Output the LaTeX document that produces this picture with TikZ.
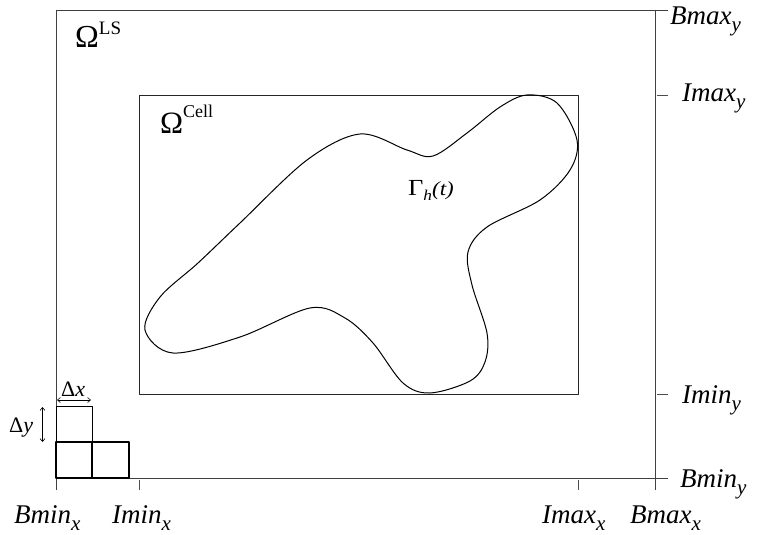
\documentclass[tikz,border=0pt]{standalone}
\usepackage{fontspec}
\setmainfont{Liberation Serif}
\usetikzlibrary{arrows.meta}
\newcommand\axlab[2]{{\fontsize{27}{27}\selectfont\textit{#1}\raisebox{-7pt}{\fontsize{21}{21}\selectfont\textit{#2}}}}
\begin{document}
\begin{tikzpicture}[x=1pt,y=-1pt, line join=round,
  frame/.style={draw=black!75, line width=0.9pt},
  cellbox/.style={draw=black, line width=1.1pt},
  tickline/.style={draw=black!70, line width=0.8pt},
  lab/.style={inner sep=0pt, anchor=base west},
  dimarrow/.style={{Straight Barb[length=3pt,width=5pt]}-{Straight Barb[length=3pt,width=5pt]}, line width=0.6pt},
  blob/.style={draw=black, line width=1pt}]
\useasboundingbox (0,0) rectangle (758,535);
% outer domain
\draw[frame] (56,10) rectangle (655,478);
\draw[frame] (655,10) -- (668,10);
\draw[frame] (655,478) -- (668,478);
\draw[frame] (56,478) -- (56,490);
\draw[frame] (655,478) -- (655,490);
% ticks
\draw[tickline] (139,480) -- (139,490);
\draw[tickline] (578,480) -- (578,490);
\draw[tickline] (657,95) -- (668,95);
\draw[tickline] (657,394) -- (668,394);
% inner cell domain
\draw[frame, draw=black!85] (139,95) rectangle (578,394);
% grid cells
\draw[cellbox] (56,442) rectangle (92,478);
\draw[cellbox] (92,442) rectangle (129,478);
\draw[draw=black, line width=0.9pt] (56,406) rectangle (92,442);
% dimension arrows
\coordinate (dxa) at (57,400);
\coordinate (dxb) at (91,400);
\coordinate (dya) at (42.5,407);
\coordinate (dyb) at (42.5,442);
\draw[dimarrow] (dxa) -- (dxb);
\draw[dimarrow] (dya) -- (dyb);
\node[lab] (dx) at (61,396) {\fontsize{22}{22}\selectfont Δ\textit{x}};
\node[lab] (dy) at (9,432) {\fontsize{22}{22}\selectfont Δ\textit{y}};
% interface
\draw[blob] plot[smooth cycle, tension=0.55] coordinates {
 (433,156) (467,133) (500,107) (527,95) (557,103) (577,140) (570,170)
 (540,200) (487,227) (468,252) (472,285) (487,333) (485,362) (470,381)
 (430,393) (403,383) (373,343) (345,318) (310,308) (240,337) (173,353)
 (145,330) (160,297) (198,263) (240,223) (307,160) (360,134) (407,150)};
% domain labels
\node[lab] (omls) at (75,48) {\fontsize{32}{32}\selectfont Ω\raisebox{13pt}{\fontsize{19}{19}\selectfont LS}};
\node[lab] (omcell) at (160,133) {\fontsize{31}{31}\selectfont Ω\raisebox{16pt}{\fontsize{18}{18}\selectfont Cell}};
\node[lab] (gamma) at (408,195) {\scalebox{1.15}[1]{\fontsize{23}{23}\selectfont Γ\raisebox{-5pt}{\fontsize{15}{15}\selectfont\textit{h}}\fontsize{20}{20}\selectfont\textit{(t)}}};
% axis labels
\node[lab] (bmaxy) at (670,25) {\axlab{Bmax}{y}};
\node[lab] (imaxy) at (682,102) {\axlab{Imax}{y}};
\node[lab] (iminy) at (682,403) {\axlab{Imin}{y}};
\node[lab] (bminy) at (680,487) {\axlab{Bmin}{y}};
\node[lab] (bminx) at (14,523) {\axlab{Bmin}{x}};
\node[lab] (iminx) at (112,523) {\axlab{Imin}{x}};
\node[lab] (imaxx) at (542,523) {\axlab{Imax}{x}};
\node[lab] (bmaxx) at (630,523) {\axlab{Bmax}{x}};
\end{tikzpicture}
\end{document}
